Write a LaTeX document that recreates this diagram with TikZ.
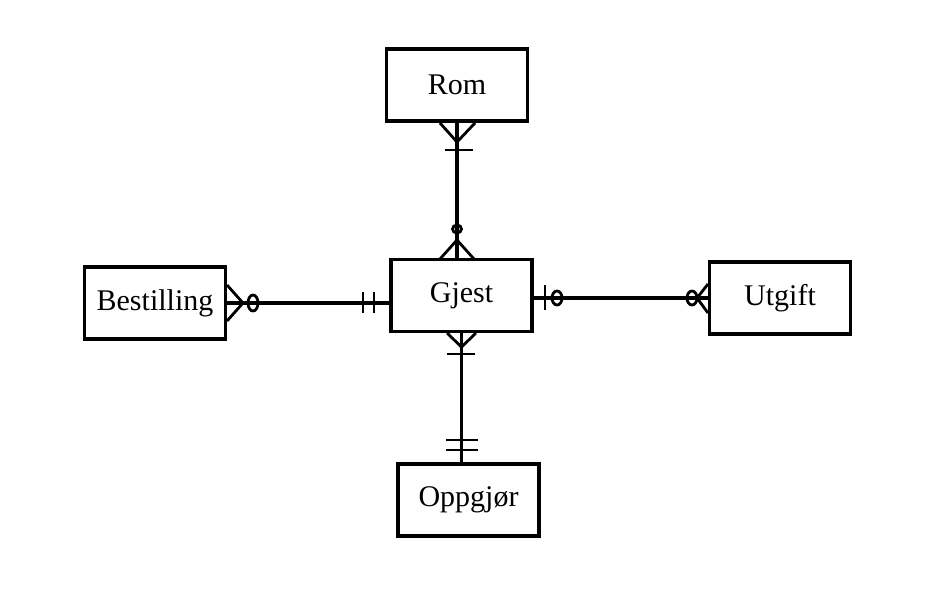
\documentclass[tikz,border=0pt]{standalone}
\usepackage{fontspec}
\setmainfont{Liberation Serif}
\begin{document}
\begin{tikzpicture}[x=1pt,y=-1pt,
  entity/.style={draw, line width=3.6pt, minimum width=141pt, minimum height=72pt, inner sep=0pt, font=\fontsize{30}{34}\selectfont},
  conn/.style={line width=3.4pt},
  mk/.style={line width=2.8pt}]
\useasboundingbox (0,0) rectangle (950,614);
\node[entity] (rom) at (457,85) {Rom};
\node[entity] (gjest) at (461.5,295.5) {Gjest};
\node[entity] (best) at (155,303) {Bestilling};
\node[entity] (utgift) at (780,298) {Utgift};
\node[entity] (opp) at (468.5,500) {Oppgjør};

% Rom -- Gjest
\draw[conn] (rom.south) -- (rom.south |- gjest.north);
\draw[mk] (440,123) -- (457,142) -- (475,123);
\draw[mk] (445,150) -- (473,150);
\draw[mk] (457,229) ellipse (4.5 and 4);
\draw[mk] (440,259) -- (457,240) -- (474,259);

% Bestilling -- Gjest
\draw[conn] (best.east) -- (best.east -| gjest.west);
\draw[mk] (227,285) -- (243,303) -- (227,321);
\draw[mk] (253,303) ellipse (5 and 8);
\draw[mk] (363,292) -- (363,313);
\draw[mk] (374,292) -- (374,313);

% Gjest -- Utgift
\draw[conn] (gjest.east |- utgift.west) -- (utgift.west);
\draw[mk] (545,285) -- (545,310);
\draw[mk] (557,298) ellipse (5 and 7);
\draw[mk] (692,298) ellipse (5 and 7);
\draw[mk] (708,284) -- (697,298) -- (708,313);

% Gjest -- Oppgjør
\draw[conn] (gjest.south) -- (gjest.south |- opp.north);
\draw[mk] (447,333) -- (461.5,347) -- (476,333);
\draw[mk] (447,354) -- (475,354);
\draw[mk] (446,440) -- (478,440);
\draw[mk] (446,450) -- (478,450);
\end{tikzpicture}
\end{document}
